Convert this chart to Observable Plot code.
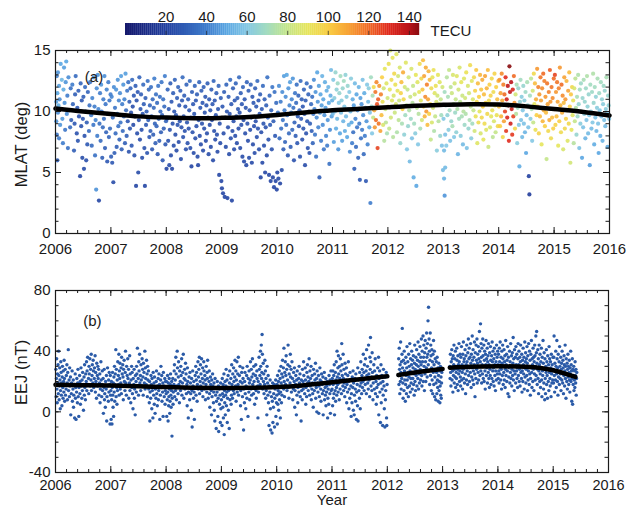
<!DOCTYPE html>
<html><head><meta charset="utf-8">
<script src="https://cdn.jsdelivr.net/npm/d3@7"></script>
<script src="https://cdn.jsdelivr.net/npm/@observablehq/plot@0.6"></script>
<style>
body{margin:0;background:#fff}
#root{position:relative;width:636px;height:507px;overflow:hidden;background:#fff}
#root svg{position:absolute;left:0}
</style>
</head><body><div id="root"></div>
<script>
// ---------- tick values ----------
const yearTicks = [2006,2007,2008,2009,2010,2011,2012,2013,2014,2015,2016];
const mlatTicks = [0,5,10,15];
const eejTicks = [-40,0,40,80];
const tecTicks = [20,40,60,80,100,120,140];

// ---------- colour bar (TECU) ----------
const tecStops  = [0, 20, 40, 50, 60, 70, 80, 90, 100, 110, 120, 130, 140, 145];
const tecColors = ["#15186b","#2240a0","#3f7ccc","#5aa6e2","#84c8e4","#a3dcc0","#c4e58a","#e6e55c","#f9cf45","#f7a335","#f06a25","#e02a1e","#b9141a","#8a0c10"];

// ---------- panel (a): MLAT of EIA crest, "hundredths-of-year:MLAT:TEC" ----------
const mlat2006 = "01:10.8:48 01:9.2:45 02:12.9:42 02:8.1:38 03:11.5:50 03:6.0:30 04:13.2:46 04:9.9:44 05:10.5:52 06:7.8:40 06:12.1:48 07:11.0:44 08:8.9:46 09:13.9:50 10:10.2:42 11:12.6:55 12:9.4:47 13:7.4:40 14:11.8:52 15:13.6:48 16:10.7:45 17:8.5:38 18:12.4:46 19:14.1:50 20:9.8:44 21:11.3:40 22:7.0:36 23:12.8:44 24:10.1:38 26:8.7:34 27:11.9:36 28:9.3:30 30:12.2:40 31:10.6:32 33:6.8:30 34:9.0:28 35:11.4:30 36:12.9:34 38:8.2:26 39:10.3:28 40:7.6:27 41:11.7:30 42:9.6:25 44:4.7:22 45:12.3:32 46:8.8:26 47:10.9:28 48:6.2:24 49:9.4:27 50:11.2:30 51:5.3:24 52:8.0:26 53:12.0:34 54:10.0:28 55:6.0:25 56:9.1:30 57:7.3:28 58:11.6:32 60:8.4:34 61:10.5:36 62:12.4:38 64:9.7:40 65:7.2:34 66:11.1:42 68:8.9:38 69:12.8:44 70:10.4:40 71:6.4:36 72:9.3:42 73:3.6:45 74:11.9:44 75:8.0:40 76:13.0:46 77:10.2:42 78:2.7:22 79:9.0:36 80:11.5:40 81:7.6:34 82:12.2:46 83:10.0:38 84:6.2:30 85:8.7:34 86:11.0:40 87:9.4:36 88:12.9:44 89:7.0:30 90:10.6:38 91:8.3:32 92:11.8:42 93:5.9:28 94:9.8:36 95:12.4:40 96:7.9:32 97:10.9:38 98:8.6:34 99:11.4:40";
const mlat2007 = "00:6.3:30 01:11.2:42 02:5.8:28 03:9.5:36 04:4.2:24 05:12.0:44 06:6.6:30 07:10.3:38 08:8.2:34 09:11.8:46 10:7.1:30 11:9.8:40 12:12.6:46 13:8.8:36 14:10.9:42 15:7.7:32 16:11.5:44 17:9.1:38 18:12.9:48 19:6.9:30 20:10.6:40 21:8.4:34 22:12.2:46 23:9.6:36 24:11.0:42 25:7.4:30 26:13.1:48 27:10.1:34 28:8.0:30 29:11.7:38 30:9.2:28 31:12.4:36 32:6.7:26 33:10.8:30 34:8.6:27 35:11.9:32 36:9.9:26 37:7.2:28 38:12.6:34 39:10.4:25 40:8.9:24 41:11.3:28 42:6.4:26 43:9.6:24 44:12.1:30 45:3.9:22 46:10.9:26 47:8.2:25 48:11.6:28 49:5.0:24 50:9.3:26 51:12.8:32 52:7.7:24 53:10.2:27 54:11.4:30 55:8.5:26 56:6.2:25 57:9.8:28 58:12.2:34 59:10.6:30 60:7.0:26 61:3.9:22 62:11.1:30 63:8.9:28 64:10.0:30 65:6.6:27 66:12.5:36 67:9.3:30 68:11.8:34 69:7.9:28 70:10.5:32 71:8.4:30 72:12.0:36 73:9.6:32 74:6.9:28 75:11.0:34 76:8.1:30 77:10.3:34 78:12.7:40 79:9.0:32 80:7.4:30 81:11.4:36 82:8.8:32 83:10.7:34 84:6.5:28 85:12.1:38 86:9.4:32 87:7.6:30 88:11.2:36 89:10.0:34 90:8.3:30 91:12.4:38 92:9.7:32 93:6.0:28 94:11.0:36 95:8.6:30 96:10.4:34 97:12.9:40 98:7.3:28 99:9.2:32";
const mlat2008 = "00:5.3:22 01:9.4:28 02:11.8:32 03:7.6:26 04:10.2:28 05:5.6:24 06:8.5:26 07:12.3:30 08:6.4:24 09:10.8:28 10:5.3:22 11:9.0:26 12:11.5:30 13:7.2:25 14:10.0:27 15:12.6:32 16:8.1:25 17:9.7:28 18:6.8:24 19:11.1:30 20:8.9:26 21:12.0:32 22:7.5:24 23:10.5:28 24:9.2:27 25:11.7:30 26:6.1:24 27:8.7:26 28:10.9:28 29:12.8:34 30:7.9:26 31:9.6:28 32:11.3:30 33:8.4:26 34:10.4:28 35:6.9:25 36:12.2:32 37:9.1:27 38:7.4:26 39:11.0:30 40:8.6:26 41:10.1:28 42:12.5:34 43:7.0:25 44:9.5:27 45:5.5:22 46:11.6:30 47:8.3:26 48:10.6:28 49:6.6:24 50:9.8:27 51:12.1:32 52:7.8:25 53:10.9:28 54:8.8:26 55:11.4:30 56:6.3:24 57:5.6:22 58:9.3:27 59:12.4:32 60:8.0:25 61:10.3:28 62:7.3:24 63:11.7:30 64:9.0:26 65:10.7:28 66:6.8:24 67:12.0:30 68:8.6:25 69:9.9:27 70:11.2:28 71:7.6:24 72:10.5:27 73:8.2:25 74:12.3:30 75:9.5:26 76:6.5:24 77:11.0:28 78:8.9:25 79:10.1:27 80:7.1:24 81:11.8:30 82:9.3:26 83:10.6:28 84:6.0:23 85:12.5:32 86:8.4:25 87:10.9:28 88:7.7:24 89:9.7:26 90:11.5:30 91:8.1:25 92:6.7:24 93:10.2:27 94:12.1:32 95:4.8:22 96:9.0:26 97:7.4:24 98:11.1:30 99:4.3:22";
const mlat2009 = "00:3.7:22 01:10.4:28 02:3.3:22 03:8.2:25 04:11.6:30 05:3.0:22 06:9.5:27 07:7.1:24 08:12.2:32 09:10.0:27 10:2.9:22 11:8.7:25 12:11.2:30 13:6.5:24 14:9.8:27 15:12.6:34 16:7.8:25 17:10.6:28 18:2.7:22 19:8.4:25 20:11.9:30 21:9.2:26 22:6.9:24 23:10.9:28 24:8.0:25 25:12.3:32 26:9.6:27 27:7.4:24 28:11.1:30 29:10.2:28 30:8.6:25 31:12.8:34 32:9.9:27 33:7.0:24 34:11.5:30 35:8.9:26 36:10.6:28 37:6.3:24 38:12.0:32 39:9.3:26 40:5.9:23 41:11.0:28 42:8.2:25 43:10.3:27 44:5.6:23 45:12.4:32 46:9.0:26 47:7.6:24 48:11.7:30 49:6.2:24 50:10.1:27 51:8.5:25 52:12.2:32 53:9.5:26 54:5.8:23 55:11.2:28 56:7.3:24 57:10.7:28 58:8.8:25 59:6.6:24 60:11.9:30 61:9.2:26 62:10.4:28 63:7.9:25 64:12.5:34 65:8.6:26 66:10.9:28 67:6.9:25 68:9.8:27 69:11.4:30 70:4.6:22 71:8.3:25 72:10.2:28 73:5.8:23 74:12.1:34 75:9.0:27 76:7.2:25 77:11.0:30 78:5.0:22 79:8.7:26 80:10.5:30 81:6.4:24 82:12.8:36 83:9.5:30 84:7.7:26 85:4.8:22 86:11.3:34 87:8.9:30 88:4.3:22 89:10.1:32 90:6.9:26 91:12.0:38 92:4.6:22 93:9.2:30 94:3.8:22 95:11.6:36 96:8.0:28 97:4.3:22 98:10.7:34 99:3.6:22";
const mlat2010 = "00:5.0:22 01:9.9:38 02:4.5:24 03:12.1:44 04:7.8:34 05:4.1:22 06:10.8:40 07:8.6:36 08:5.2:24 09:11.6:44 10:9.3:38 11:6.9:30 12:12.9:48 13:10.1:40 14:7.5:32 15:11.2:44 16:8.9:36 17:13.0:50 18:9.7:40 19:6.4:28 20:11.9:46 21:8.2:34 22:10.5:42 23:12.4:48 24:7.1:30 25:9.9:38 26:11.0:42 27:8.5:34 28:12.7:46 29:10.3:36 30:6.0:26 31:9.1:32 32:11.5:38 33:8.0:30 34:10.7:34 35:12.2:36 36:7.4:28 37:9.6:30 38:11.3:32 39:8.8:28 40:10.1:30 41:6.3:26 42:12.5:34 43:9.4:28 44:11.0:30 45:7.7:26 46:10.4:28 47:8.6:27 48:11.8:32 49:9.8:28 50:5.6:24 51:10.9:30 52:8.2:26 53:12.3:34 54:9.2:28 55:7.0:26 56:11.4:32 57:10.0:30 58:6.6:26 59:9.0:30 60:12.0:36 61:10.6:34 62:8.4:30 63:11.2:36 64:7.4:32 65:9.8:38 66:12.6:44 67:10.2:42 68:8.1:38 69:11.6:46 70:6.3:36 71:9.5:44 72:13.2:50 73:10.8:46 74:8.7:42 75:12.1:48 76:4.6:30 77:9.9:46 78:11.4:50 79:7.6:40 80:10.5:48 81:12.9:54 82:8.9:44 83:11.0:50 84:6.9:38 85:9.7:46 86:12.4:52 87:10.3:48 88:8.0:42 89:11.7:52 90:7.2:40 91:9.3:46 92:12.0:54 93:10.7:50 94:5.7:36 95:8.5:44 96:11.3:52 97:13.4:56 98:9.6:48 99:10.9:52";
const mlat2011 = "00:9.8:55 01:12.6:60 02:7.5:48 03:11.1:62 04:10.0:58 05:13.2:66 06:8.6:52 07:11.8:64 08:9.4:56 09:12.3:68 10:6.9:46 11:10.7:60 12:11.5:66 13:8.2:50 14:12.9:70 15:9.9:58 16:10.9:62 17:7.6:48 18:11.9:66 19:9.2:54 20:12.5:70 21:10.4:60 22:8.4:52 23:13.0:64 24:9.6:56 25:11.2:62 26:7.9:50 27:12.1:66 28:10.2:58 29:8.9:54 30:11.6:60 31:6.7:44 32:10.0:56 33:12.7:62 34:9.1:50 35:7.4:40 36:11.0:52 37:8.3:36 38:10.5:48 39:5.3:30 40:12.3:56 41:9.4:42 42:7.1:34 43:11.4:50 44:8.7:38 45:10.1:44 46:6.2:32 47:12.0:54 48:9.0:40 49:4.4:28 50:11.1:48 51:7.8:36 52:10.6:46 53:8.5:40 54:12.6:58 55:9.7:44 56:6.5:34 57:11.5:52 58:8.0:40 59:10.3:50 60:4.3:28 61:9.2:46 62:12.2:60 63:7.3:42 64:10.8:56 65:11.9:62 66:8.7:50 67:9.9:58 68:2.5:40 69:12.8:70 70:10.4:66 71:8.2:60 72:11.3:72 73:9.5:80 74:12.0:96 75:10.1:108 76:8.7:112 77:11.6:118 78:9.3:120 79:12.4:115 80:10.6:124 81:7.0:126 82:11.0:122 83:9.0:118 84:12.1:112 85:10.3:120 86:8.4:110 87:11.4:116 88:9.7:104 89:12.8:100 90:10.8:92 91:8.9:86 92:11.9:84 93:7.6:76 94:13.5:90 95:10.2:82 96:9.1:78 97:12.3:88 98:8.2:72 99:11.1:84";
const mlat2012 = "00:10.4:88 01:13.9:92 02:8.6:80 03:11.8:90 04:15.0:86 05:9.5:84 06:12.6:94 07:10.9:88 08:14.4:90 09:7.9:76 10:11.3:86 11:13.1:96 12:9.9:82 13:12.2:92 14:10.6:86 15:14.7:88 16:8.3:74 17:11.7:90 18:12.9:84 19:9.3:78 20:10.9:82 21:13.6:86 22:7.4:66 23:11.5:98 24:12.4:104 25:9.0:72 26:10.2:100 27:13.2:108 28:11.0:96 29:8.1:64 30:12.0:84 31:9.7:70 32:14.0:88 33:10.5:78 34:6.9:60 35:11.8:80 36:8.8:66 37:12.8:84 38:10.1:74 39:5.9:56 40:11.2:82 41:9.4:68 42:13.5:86 43:7.8:58 44:10.7:76 45:12.1:80 46:4.6:52 47:9.0:70 48:11.4:84 49:8.2:62 50:13.0:90 51:3.9:50 52:10.3:78 53:12.4:88 54:7.3:60 55:9.8:76 56:11.6:90 57:13.9:94 58:8.6:72 59:10.9:88 60:12.7:96 61:9.3:84 62:11.8:102 63:14.2:104 64:10.4:100 65:12.9:110 66:9.6:106 67:11.2:114 68:13.6:108 69:10.0:112 70:12.2:116 71:8.9:104 72:11.0:110 73:13.3:106 74:9.8:100 75:12.6:104 76:10.6:96 77:7.7:80 78:11.9:94 79:9.1:86 80:12.8:90 81:10.3:84 82:13.4:92 83:8.4:74 84:11.5:88 85:9.6:80 86:12.1:92 87:10.8:86 88:6.8:62 89:11.3:84 90:13.0:90 91:9.2:76 92:10.6:82 93:12.4:88 94:8.0:66 95:11.0:80 96:9.7:70 97:7.2:58 98:12.0:84 99:5.2:56";
const mlat2013 = "00:9.4:60 01:6.8:56 01:4.5:54 02:11.6:70 02:3.1:46 03:8.1:58 03:5.4:56 04:10.5:66 05:7.2:60 06:12.8:76 07:9.7:64 08:11.2:72 09:8.5:62 10:13.4:80 11:10.1:70 12:7.6:58 13:12.0:78 14:9.2:66 15:11.5:82 16:8.8:72 17:13.0:86 18:10.6:76 19:7.9:60 20:12.3:84 21:9.9:68 22:11.0:80 23:8.3:64 24:12.9:88 25:10.2:74 26:6.5:54 27:11.8:84 28:9.4:70 29:13.6:86 30:10.8:78 31:8.0:62 32:12.4:90 33:9.6:72 34:11.3:82 35:7.3:56 36:10.0:76 37:12.7:88 38:8.9:68 39:11.1:84 40:9.8:74 41:13.2:92 42:7.0:58 43:10.6:80 44:12.1:86 45:8.6:66 46:11.5:84 47:9.3:72 48:13.8:94 49:10.4:78 50:7.8:62 51:12.5:88 52:9.0:70 53:11.0:86 54:10.1:80 55:12.8:96 56:8.4:84 57:11.7:98 58:9.6:92 59:13.4:102 60:10.8:96 61:7.4:88 62:12.3:104 63:9.1:94 64:11.2:100 65:10.0:90 66:13.0:106 67:8.2:86 68:11.8:102 69:9.5:96 70:12.6:108 71:10.4:100 72:7.7:90 73:11.4:104 74:9.0:94 75:12.9:110 76:10.7:98 77:8.5:88 78:11.9:106 79:9.8:96 80:13.4:104 81:7.1:82 82:10.9:94 83:12.2:100 84:8.7:86 85:11.3:98 86:9.6:90 87:12.7:96 88:10.1:92 89:7.9:78 90:11.6:94 91:9.2:86 92:13.1:98 93:10.5:90 94:8.3:80 95:12.0:100 96:9.7:92 97:11.0:104 98:8.8:96 99:12.5:106";
const mlat2014 = "00:10.4:104 01:12.6:112 02:8.8:100 03:11.5:110 04:9.6:106 05:13.1:114 06:10.9:108 07:7.9:96 08:12.2:116 09:9.2:110 10:11.4:120 11:10.0:126 12:12.8:130 13:8.4:128 14:11.0:134 15:9.5:132 16:12.1:138 17:10.5:136 18:7.6:130 19:13.7:148 20:11.6:138 21:9.0:134 22:12.4:140 23:10.2:136 24:8.1:128 25:11.8:132 26:9.6:126 27:12.9:120 28:10.7:112 29:8.6:96 30:11.4:84 31:9.8:76 32:12.2:72 33:7.4:62 34:10.3:70 35:11.9:66 36:8.9:60 37:5.5:52 38:10.8:64 39:12.6:70 40:9.3:58 41:11.2:62 42:7.9:56 43:10.1:60 44:12.1:66 45:9.0:58 46:10.9:62 47:8.3:54 48:11.6:68 49:6.6:50 50:9.7:56 51:12.4:72 52:10.5:64 53:8.7:58 54:4.7:20 55:3.2:18 56:11.3:70 57:9.4:62 58:12.7:78 59:10.2:72 60:7.6:60 61:11.7:84 62:9.1:80 63:13.1:96 64:10.6:90 65:12.3:104 66:8.5:92 67:11.0:108 68:9.7:100 69:13.5:112 70:10.4:106 71:12.0:116 72:8.2:98 73:11.4:112 74:9.6:104 75:12.8:118 76:10.9:110 77:7.3:90 78:11.9:114 79:9.2:106 80:13.1:120 81:10.1:108 82:12.5:116 83:8.8:100 84:11.2:112 85:9.9:104 86:6.1:80 87:12.3:118 88:10.6:110 89:8.4:96 90:11.6:116 91:9.3:108 92:13.4:122 93:10.8:112 94:7.8:94 95:12.0:118 96:9.5:104 97:11.1:114 98:8.6:100 99:12.7:120";
const mlat2015 = "00:10.2:108 01:13.0:126 02:8.9:98 03:11.6:112 04:9.6:104 05:12.4:118 06:10.8:110 07:7.2:90 08:11.9:116 09:9.2:100 10:13.6:112 11:10.5:106 12:8.3:94 13:12.2:120 14:9.9:108 15:11.3:114 16:6.9:86 17:10.7:104 18:12.8:110 19:8.6:96 20:11.0:112 21:9.4:100 22:12.5:106 23:10.1:98 24:7.6:88 25:11.7:110 26:9.0:96 27:13.2:104 28:10.4:100 29:5.8:84 30:11.4:102 31:8.5:90 32:12.0:96 33:9.7:88 34:10.9:92 35:7.4:76 36:11.9:86 37:9.2:80 38:12.7:78 39:10.3:74 40:8.1:66 41:11.2:72 42:9.6:68 43:13.0:74 44:10.6:66 45:7.0:58 46:11.8:70 47:9.0:62 48:12.3:68 49:10.0:64 50:6.2:50 51:11.1:66 52:8.7:58 53:12.6:72 54:9.8:62 55:10.8:66 56:7.8:54 57:11.9:68 58:9.3:58 59:12.9:74 60:10.4:64 61:8.2:56 62:11.4:66 63:9.7:60 64:5.6:48 65:12.2:70 66:10.0:62 67:8.6:56 68:11.6:68 69:9.1:60 70:13.1:74 71:10.7:66 72:7.3:52 73:12.0:70 74:9.5:58 75:11.2:64 76:8.4:54 77:10.3:62 78:12.7:72 79:9.0:58 80:6.6:50 81:11.5:68 82:10.1:60 83:8.0:52 84:12.4:70 85:9.6:58 86:11.0:64 87:7.6:54 88:10.6:62 89:12.1:68 90:9.3:58 91:11.7:66 92:8.8:56 93:10.2:62 94:12.8:72 95:9.9:60 96:7.1:52 97:11.3:66 98:10.5:64 99:9.4:60";

// fitted MLAT trend (deg)
const mlatTrend = [[2006,10.25],[2006.5,10.0],[2007,9.8],[2007.5,9.6],[2008,9.5],[2008.5,9.45],[2009,9.48],[2009.5,9.55],[2010,9.72],[2010.5,9.92],[2011,10.1],[2011.5,10.22],[2012,10.35],[2012.5,10.48],[2013,10.55],[2013.5,10.6],[2014,10.57],[2014.5,10.42],[2015,10.2],[2015.5,9.98],[2016,9.67]];

// ---------- panel (b): EEJ, "hundredths-of-year:nT" ----------
const eej2006 = "00:18 00:28 01:10 01:22 02:35 02:15 03:6 03:25 04:19 04:31 05:12 05:40 06:24 06:8 07:17 07:29 08:21 08:2 09:14 09:33 10:26 10:11 11:19 11:4 12:23 12:30 13:16 13:9 14:27 14:20 15:13 15:34 16:22 16:7 17:18 17:28 18:11 19:24 19:15 20:31 21:19 21:8 22:26 23:14 23:41 24:21 25:10 25:29 26:17 27:-2 27:23 28:12 29:19 30:7 30:27 31:15 32:21 32:3 33:11 34:-4 34:18 35:25 36:9 36:16 37:-5 38:22 38:13 39:6 40:19 40:28 41:10 42:16 42:-3 43:24 44:12 44:20 45:5 46:17 46:29 47:9 48:21 48:14 49:26 50:1 50:18 51:23 52:11 52:31 53:16 54:25 54:8 55:20 56:33 56:14 57:27 58:18 58:36 59:22 60:12 60:30 61:25 62:17 62:35 63:28 64:21 64:38 65:14 66:31 66:24 67:19 68:34 68:27 69:16 70:29 70:22 71:37 72:13 72:26 73:20 74:32 74:9 75:24 76:17 76:30 77:22 78:11 78:28 79:19 80:25 80:6 81:15 82:21 82:33 83:10 84:18 84:27 85:14 86:-1 86:22 87:16 88:28 88:8 89:12 90:20 90:3 91:15 92:24 92:-6 93:10 94:17 94:29 95:7 96:21 96:13 97:26 98:-8 98:18 99:11 99:24";
const eej2007 = "00:14 00:-5 01:20 01:8 02:-8 02:16 03:26 03:11 04:3 04:19 05:-3 05:23 06:13 06:30 07:7 07:18 08:25 09:10 09:41 10:16 10:28 11:21 11:5 12:33 12:14 13:24 14:18 14:38 15:11 15:27 16:22 16:32 17:15 18:29 18:19 19:36 19:12 20:25 21:17 21:31 22:23 22:8 23:28 24:20 24:34 25:14 26:26 26:40 27:19 28:30 28:11 29:24 30:17 30:35 31:22 32:9 32:28 33:19 34:37 34:14 35:25 36:21 36:6 37:30 38:16 38:26 39:12 40:22 40:2 41:18 42:28 42:9 43:15 44:24 44:-2 45:20 46:13 46:30 47:25 48:17 48:42 49:22 50:11 50:33 51:27 52:19 52:38 53:24 54:14 54:31 55:21 56:35 56:17 57:28 58:23 58:11 59:32 60:19 60:26 61:40 62:15 62:29 63:22 64:34 64:18 65:25 66:10 66:30 67:21 68:15 68:27 69:6 70:20 70:-6 71:13 72:24 72:9 73:18 74:2 74:22 75:14 76:26 76:-4 77:11 78:19 78:5 79:23 80:15 80:-1 81:9 82:20 82:27 83:12 84:17 84:4 85:22 86:8 86:14 87:25 88:-5 88:18 89:11 90:21 90:30 91:16 92:7 92:24 93:13 94:19 94:-3 95:26 96:10 96:17 97:22 98:5 98:14 99:20";
const eej2008 = "00:12 00:20 01:-3 01:16 02:8 02:24 03:13 03:-6 04:19 04:4 05:10 05:22 06:15 06:-1 07:7 07:18 08:25 08:11 09:3 09:14 10:20 10:-16 11:9 11:16 12:22 12:5 13:13 14:27 14:18 15:10 15:31 16:21 17:14 17:36 18:25 18:8 19:17 20:29 20:40 21:12 22:23 22:33 23:18 24:27 24:6 25:20 26:14 26:30 27:24 28:11 28:35 29:19 30:26 30:16 31:38 32:22 32:9 33:28 34:15 34:21 35:32 36:12 36:25 37:18 38:4 38:29 39:20 40:13 40:-4 41:23 42:16 42:8 43:26 44:12 44:19 45:1 46:22 46:14 47:-10 48:17 48:27 49:9 50:20 50:13 51:-5 52:24 52:16 53:30 54:11 54:21 55:26 56:18 56:7 57:33 58:15 58:23 59:28 60:12 60:36 61:20 62:31 62:17 63:25 64:14 64:35 65:22 66:29 66:10 67:19 68:27 68:33 69:15 70:24 70:21 71:8 72:30 72:18 73:13 74:26 74:22 75:34 76:16 76:9 77:20 78:27 78:12 79:3 80:18 80:23 81:14 82:-2 82:21 83:10 84:17 84:25 85:6 86:13 86:19 87:1 88:22 88:-6 89:11 90:16 90:-11 91:7 92:20 92:13 93:-3 94:9 94:17 95:-13 96:5 96:15 97:11 98:-7 98:19 99:2";
const eej2009 = "00:8 00:16 01:-9 01:22 02:12 02:3 03:18 03:-4 04:10 04:25 05:-15 05:14 06:6 06:20 07:-2 07:11 08:17 08:28 09:4 09:13 10:21 10:-7 11:9 11:16 12:24 12:1 13:14 14:19 14:-11 15:8 15:27 16:15 17:22 17:5 18:11 18:31 19:18 20:25 20:9 21:14 22:29 22:20 23:12 24:34 24:23 25:17 26:27 26:7 27:21 28:13 28:33 29:25 30:18 30:36 31:11 32:24 32:16 33:30 34:20 34:4 35:14 36:26 36:-5 37:19 38:10 38:29 39:22 40:15 40:-12 41:6 42:20 42:26 43:12 44:17 44:2 45:24 46:9 46:30 47:16 48:22 48:-3 49:13 50:27 50:19 51:8 52:33 52:21 53:15 54:28 54:11 55:23 56:18 56:35 57:25 58:12 58:30 59:20 60:16 60:5 61:24 62:31 62:14 63:9 64:22 64:27 65:17 66:-4 66:20 67:13 68:28 68:36 69:24 70:18 70:40 71:30 72:22 72:44 73:51 73:26 74:15 74:38 75:32 76:20 76:25 77:12 78:34 78:18 79:27 80:9 80:22 81:14 82:30 82:-2 83:19 84:11 84:24 85:6 86:17 86:-9 87:13 88:21 88:2 89:-12 90:10 90:16 91:-14 92:7 92:19 93:-7 94:12 94:3 95:18 96:-10 96:9 97:15 98:-3 98:21 99:6";
const eej2010 = "00:11 00:18 01:-8 01:24 02:5 02:14 03:20 03:1 04:12 04:27 05:8 05:16 06:22 06:-4 07:13 07:30 08:19 08:6 09:25 09:11 10:17 10:34 11:23 12:15 12:29 13:20 13:42 14:26 14:10 15:33 16:18 16:24 17:37 18:14 18:28 19:21 20:31 20:44 21:16 22:25 22:9 23:30 24:19 24:38 25:23 26:13 26:28 27:33 28:17 28:22 29:8 30:26 30:15 31:20 32:29 32:3 33:14 34:24 34:18 35:-2 36:21 36:11 37:27 38:16 38:6 39:22 40:13 40:30 41:19 42:10 42:25 43:17 44:-6 44:21 45:14 46:28 46:8 47:20 48:15 48:33 49:24 50:12 50:18 51:29 52:21 52:5 53:16 54:26 54:10 55:31 56:19 56:23 57:14 58:35 58:20 59:11 60:27 60:17 61:22 62:8 62:30 63:15 64:24 64:19 65:12 66:28 66:3 67:18 68:14 68:25 69:21 70:9 70:32 71:16 72:22 72:0 73:27 74:13 74:19 75:24 76:-1 76:17 77:10 78:21 78:29 79:15 80:7 80:20 81:25 82:12 82:18 83:23 84:-2 84:14 85:19 86:8 86:26 87:16 88:11 88:22 89:4 90:17 90:13 91:20 92:-4 92:9 93:15 94:24 94:5 95:18 96:12 96:21 97:-1 98:14 98:27 99:19";
const eej2011 = "00:15 00:22 01:4 01:27 02:18 02:9 03:24 03:12 04:31 04:-2 05:19 05:14 06:26 06:7 07:21 07:33 08:16 08:11 09:40 09:23 10:18 10:29 11:13 11:37 12:25 12:19 13:8 13:30 14:22 14:15 15:35 16:20 16:27 17:45 17:12 18:24 18:31 19:17 20:38 20:22 21:14 21:28 22:19 23:32 23:10 24:25 24:16 25:21 26:29 26:6 27:18 28:24 28:13 29:33 30:20 30:2 31:15 32:26 32:9 33:21 34:17 34:-3 35:12 36:23 36:6 37:16 38:27 38:1 39:19 40:11 40:-2 41:22 42:15 42:7 43:25 44:13 44:-5 45:18 46:4 46:29 47:-6 48:14 48:21 49:9 50:26 50:17 51:2 52:19 52:33 53:12 54:24 54:28 55:16 56:38 56:20 57:26 58:14 58:31 59:22 60:35 60:18 61:27 62:12 62:41 63:24 64:19 64:30 65:15 66:44 66:25 67:21 68:36 68:10 69:49 69:28 70:17 70:33 71:23 72:14 72:39 73:26 74:19 74:8 75:31 76:22 76:15 77:27 78:12 78:35 79:20 80:5 80:24 81:16 82:29 82:10 83:18 84:36 84:-2 85:22 86:13 86:27 87:-7 88:19 88:31 89:6 90:15 90:24 91:-9 92:20 92:11 93:28 94:2 94:17 95:-10 96:23 96:8 97:14 98:-4 98:26 99:18 99:-9";
const eej2012 = "20:24 20:35 21:18 21:42 22:28 22:12 23:31 23:20 24:46 24:26 25:15 25:33 26:22 26:38 27:55 27:29 28:19 28:9 29:34 29:25 30:14 30:40 31:27 31:21 32:32 32:7 33:18 33:36 34:24 34:12 35:29 35:43 36:21 36:16 37:33 37:26 38:10 38:38 39:23 39:30 40:17 40:45 41:27 41:13 42:35 42:22 43:19 43:31 44:40 44:26 45:15 45:34 46:22 46:29 47:37 47:18 48:25 48:11 49:32 49:44 50:20 50:28 51:14 51:36 52:24 52:31 53:41 53:17 54:27 54:34 55:22 55:46 56:30 56:15 57:38 57:25 58:19 58:33 59:43 59:28 60:21 60:36 61:31 61:48 62:24 62:17 63:40 63:33 64:27 64:50 65:20 65:36 66:44 66:30 67:14 67:39 68:25 68:47 69:33 69:20 70:42 70:29 71:52 71:36 72:23 72:45 73:38 73:60 74:31 74:69 75:27 75:48 76:40 76:18 77:34 77:52 78:24 78:44 79:37 79:14 80:29 80:41 81:21 81:33 82:12 82:38 83:26 83:47 84:18 84:31 85:40 85:10 86:23 86:35 87:28 87:8 88:19 88:33 89:26 89:12 90:36 90:21 91:16 91:29 92:7 92:24 93:32 93:14 94:20 94:27 95:6 95:17 96:30 96:11 97:23 97:9 98:19 98:26";
const eej2013 = "13:30 13:22 14:38 14:26 15:17 15:33 16:29 16:41 17:21 17:35 18:27 18:13 19:37 19:24 20:31 20:44 21:19 21:28 22:35 22:23 23:40 23:16 24:30 24:26 25:22 25:42 26:34 26:18 27:28 27:37 28:14 28:31 29:25 29:45 30:33 30:20 31:27 31:38 32:23 32:17 33:36 33:29 34:43 34:21 35:31 35:26 36:15 36:38 37:28 37:46 38:22 38:33 39:35 39:19 40:29 40:41 41:25 41:12 42:37 42:31 43:21 43:44 44:33 44:27 45:18 45:39 46:30 46:48 47:24 47:35 48:42 48:20 49:29 49:36 50:26 50:45 51:32 51:16 52:38 52:23 53:29 53:50 54:34 54:21 55:41 55:27 56:18 56:36 57:31 57:46 58:25 58:10 59:39 59:30 60:22 60:44 61:34 61:28 62:48 62:19 63:32 63:38 64:26 64:43 65:21 65:35 66:30 66:53 67:40 67:24 68:33 68:58 69:27 69:45 70:36 70:19 71:42 71:31 72:25 72:48 73:37 73:22 74:30 74:44 75:20 75:34 76:40 76:27 77:15 77:38 78:31 78:47 79:24 79:35 80:29 80:42 81:19 81:33 82:37 82:26 83:45 83:22 84:31 84:16 85:39 85:28 86:24 86:43 87:34 87:18 88:30 88:37 89:22 89:46 90:33 90:27 91:40 91:20 92:29 92:35 93:17 93:42 94:31 94:24 95:38 95:14 96:27 96:33 97:21 97:44 98:30 98:36 99:25 99:40";
const eej2014 = "00:31 00:22 01:38 01:27 02:19 02:42 03:33 03:25 04:46 04:29 05:21 05:36 06:28 06:15 07:40 07:32 08:24 08:44 09:35 09:18 10:30 10:26 11:41 11:21 12:33 12:37 13:16 13:28 14:47 14:24 15:31 15:38 16:20 16:34 17:27 17:43 18:12 18:30 19:36 19:23 20:10 20:29 21:40 21:19 22:33 22:26 23:45 23:22 24:30 24:37 25:17 25:28 26:39 26:24 27:32 27:49 28:21 28:35 29:27 29:14 30:41 30:30 31:25 31:36 32:19 32:43 33:31 33:27 34:38 34:22 35:29 35:16 36:35 36:45 37:24 37:31 38:40 38:20 39:28 39:36 40:17 40:33 41:44 41:26 42:30 42:22 43:38 43:13 44:27 44:34 45:20 45:42 46:31 46:25 47:36 47:15 48:29 48:46 49:23 49:33 50:39 50:19 51:28 51:35 52:24 52:43 53:32 53:14 54:37 54:21 55:27 55:45 56:30 56:18 57:40 57:25 58:34 58:11 59:22 59:38 60:29 60:47 61:26 61:16 62:35 62:31 63:20 63:42 64:28 64:36 65:14 65:33 66:25 66:44 67:37 67:21 68:30 68:50 69:24 69:39 70:53 70:32 71:18 71:28 72:41 72:22 73:35 73:12 74:27 74:44 75:31 75:20 76:38 76:25 77:16 77:33 78:29 78:42 79:21 79:10 80:36 80:27 81:24 81:47 82:32 82:15 83:19 83:39 84:28 84:8 85:35 85:22 86:12 86:30 87:26 87:41 88:18 88:33 89:24 89:9 90:37 90:28 91:20 91:31 92:14 92:43 93:26 93:35 94:22 94:17 95:33 95:29 96:10 96:38 97:25 97:19 98:31 98:27 99:21 99:36";
const eej2015 = "00:28 00:19 01:36 01:50 02:24 02:13 03:32 03:27 04:21 04:40 05:30 05:16 06:25 06:47 07:35 07:20 08:29 08:11 09:38 09:23 10:26 10:33 11:18 11:43 12:30 12:22 13:25 13:36 14:14 14:28 15:32 15:21 16:40 16:26 17:19 17:34 18:29 18:12 19:24 19:37 20:31 20:17 21:27 21:44 22:22 22:30 23:9 23:35 24:25 24:20 25:32 25:15 26:28 26:38 27:23 27:30 28:18 28:26 29:34 29:21 30:13 30:29 31:25 31:40 32:20 32:31 33:27 33:7 34:22 34:35 35:5 35:28 36:18 36:24 37:30 37:14 38:21 38:27 39:16 39:33 40:24 40:19 41:28 41:11 42:22 42:26";

// fitted EEJ trend (nT), three segments
const eejTrend1 = [[2006,17.8],[2006.5,17.6],[2007,17.3],[2007.5,16.8],[2008,16.3],[2008.5,15.9],[2009,15.7],[2009.5,15.8],[2010,16.3],[2010.5,17.6],[2011,19.5],[2011.5,21.5],[2012,23.4]];
const eejTrend2 = [[2012.2,24.3],[2012.5,25.9],[2012.8,27.4],[2013.0,28.3]];
const eejTrend3 = [[2013.13,29.1],[2013.5,29.7],[2014,30.0],[2014.5,29.7],[2014.8,28.8],[2015,27.4],[2015.2,25.3],[2015.4,23.0]];

// ---------- build tables ----------
const mlatYears = [[2006,mlat2006],[2007,mlat2007],[2008,mlat2008],[2009,mlat2009],[2010,mlat2010],[2011,mlat2011],[2012,mlat2012],[2013,mlat2013],[2014,mlat2014],[2015,mlat2015]];
const eejYears = [[2006,eej2006],[2007,eej2007],[2008,eej2008],[2009,eej2009],[2010,eej2010],[2011,eej2011],[2012,eej2012],[2013,eej2013],[2014,eej2014],[2015,eej2015]];
const mlatData = mlatYears.flatMap(([y, s]) => s.trim().split(/\s+/).map(k => { const p = k.split(":"); return {t: y + (+p[0]) / 100 + 0.004, mlat: +p[1], tec: +p[2]}; }));
const eejData = eejYears.flatMap(([y, s]) => s.trim().split(/\s+/).map((k, i) => { const p = k.split(":"); return {t: y + (+p[0]) / 100 + (i % 2 ? 0.006 : 0.001), eej: +p[1]}; }));
const eejTrend = [eejTrend1, eejTrend2, eejTrend3].flatMap((seg, i) => seg.map(([t, v]) => ({t, v, seg: i})));
const mlatTrendData = mlatTrend.map(([t, v]) => ({t, v}));

// ---------- shared styling ----------
const FONT = "'Liberation Sans', Arial, Helvetica, sans-serif";
const INK = "#1a1a1a";
const tecInterp = d3.scaleLinear(tecStops, tecColors).interpolate(d3.interpolateRgb);
const colorOpts = {type: "linear", domain: [0, 145], interpolate: t => tecInterp(t * 145), clamp: true};
const minorYears = d3.range(2006, 2016.001, 0.2).map(d => +d.toFixed(1));
const root = document.getElementById("root");

function frameTicks(yMin, yMax, yMajor, yMinor, pxH, pxW) {
  const ky = (yMax - yMin) / pxH, kx = 10 / pxW;
  const tl = (px) => px * ky, xl = (px) => px * kx;
  return [
    Plot.ruleX(minorYears, {x: d => d, y1: yMin, y2: yMin + tl(3), stroke: INK}),
    Plot.ruleX(yearTicks, {x: d => d, y1: yMin, y2: yMin + tl(6), stroke: INK}),
    Plot.ruleX(minorYears, {x: d => d, y1: yMax - tl(3), y2: yMax, stroke: INK}),
    Plot.ruleX(yearTicks, {x: d => d, y1: yMax - tl(6), y2: yMax, stroke: INK}),
    Plot.ruleY(yMinor, {y: d => d, x1: 2006, x2: 2006 + xl(3.5), stroke: INK}),
    Plot.ruleY(yMajor, {y: d => d, x1: 2006, x2: 2006 + xl(6), stroke: INK}),
    Plot.ruleY(yMinor, {y: d => d, x1: 2016 - xl(3.5), x2: 2016, stroke: INK}),
    Plot.ruleY(yMajor, {y: d => d, x1: 2016 - xl(6), x2: 2016, stroke: INK})
  ];
}

// ---------- colour bar ----------
const barStops = d3.range(0, 145, 1);
const bar = Plot.plot({
  width: 636, height: 40,
  marginLeft: 125, marginRight: 217, marginTop: 23, marginBottom: 5,
  x: {domain: [0, 145]},
  y: {domain: [0, 1], axis: null},
  color: colorOpts,
  style: {fontFamily: FONT, fontSize: "15px", color: INK, background: "transparent", overflow: "visible"},
  marks: [
    Plot.rect(barStops, {x1: d => d, x2: d => d + 1.1, y1: 0, y2: 1, fill: d => d + 0.5}),
    Plot.ruleX(tecTicks, {x: d => d, y1: 0, y2: 0.35, stroke: "#222", strokeOpacity: 0.7}),
    Plot.axisX({anchor: "top", ticks: tecTicks, tickSize: 0, tickPadding: 2, tickFormat: d => String(d), label: null}),
    Plot.text(["TECU"], {x: 145, y: 0.5, dx: 11, dy: 2, textAnchor: "start", fontSize: 15})
  ]
});
bar.style.top = "0px";
root.appendChild(bar);

// ---------- panel (a) ----------
const minorMlat = d3.range(0, 15.001, 1);
const pa = Plot.plot({
  width: 636, height: 216,
  marginLeft: 55, marginRight: 27, marginTop: 10, marginBottom: 23,
  x: {domain: [2006, 2016]},
  y: {domain: [0, 15]},
  color: colorOpts,
  style: {fontFamily: FONT, fontSize: "15px", color: INK, background: "transparent", overflow: "visible"},
  marks: [
    Plot.dot(mlatData, {x: "t", y: "mlat", fill: "tec", r: 2.1, fillOpacity: 0.9}),
    Plot.line(mlatTrendData, {x: "t", y: "v", stroke: "#000", strokeWidth: 4.5, curve: "natural"}),
    ...frameTicks(0, 15, mlatTicks, minorMlat, 183, 554),
    Plot.frame({stroke: INK, strokeWidth: 1.2}),
    Plot.axisX({ticks: yearTicks, tickSize: 0, tickPadding: 10, tickFormat: d => String(d), label: null}),
    Plot.axisY({ticks: mlatTicks, tickSize: 0, tickPadding: 5, tickFormat: d => String(d), label: null}),
    Plot.text(["MLAT (deg)"], {x: 2006, y: 7.3, dx: -34, rotate: -90, fontSize: 16.5}),
    Plot.text(["(a)"], {x: 2006.53, y: 12.8, textAnchor: "start", fontSize: 15})
  ]
});
pa.style.top = "40px";
root.appendChild(pa);

// ---------- panel (b) ----------
const minorEej = d3.range(-40, 80.001, 10);
const pb = Plot.plot({
  width: 636, height: 227,
  marginLeft: 55, marginRight: 28, marginTop: 10, marginBottom: 35,
  x: {domain: [2006, 2016]},
  y: {domain: [-40, 80]},
  style: {fontFamily: FONT, fontSize: "15px", color: INK, background: "transparent", overflow: "visible"},
  marks: [
    Plot.dot(eejData, {x: "t", y: "eej", fill: "#2b5ba8", r: 1.7}),
    Plot.line(eejTrend, {x: "t", y: "v", z: "seg", stroke: "#000", strokeWidth: 4.5, curve: "natural"}),
    ...frameTicks(-40, 80, eejTicks, minorEej, 182, 553),
    Plot.frame({stroke: INK, strokeWidth: 1.2}),
    Plot.axisX({ticks: yearTicks, tickSize: 0, tickPadding: 7, tickFormat: d => String(d), label: null, fontSize: 14.5}),
    Plot.axisY({ticks: eejTicks, tickSize: 0, tickPadding: 5, tickFormat: d => String(d), label: null}),
    Plot.text(["EEJ (nT)"], {x: 2006, y: 26, dx: -34, rotate: -90, fontSize: 16.5}),
    Plot.text(["(b)"], {x: 2006.5, y: 59.7, textAnchor: "start", fontSize: 15}),
    Plot.text(["Year"], {frameAnchor: "bottom", dy: 32, lineAnchor: "bottom", fontSize: 15})
  ]
});
pb.style.top = "280px";
root.appendChild(pb);
</script>
</body></html>
